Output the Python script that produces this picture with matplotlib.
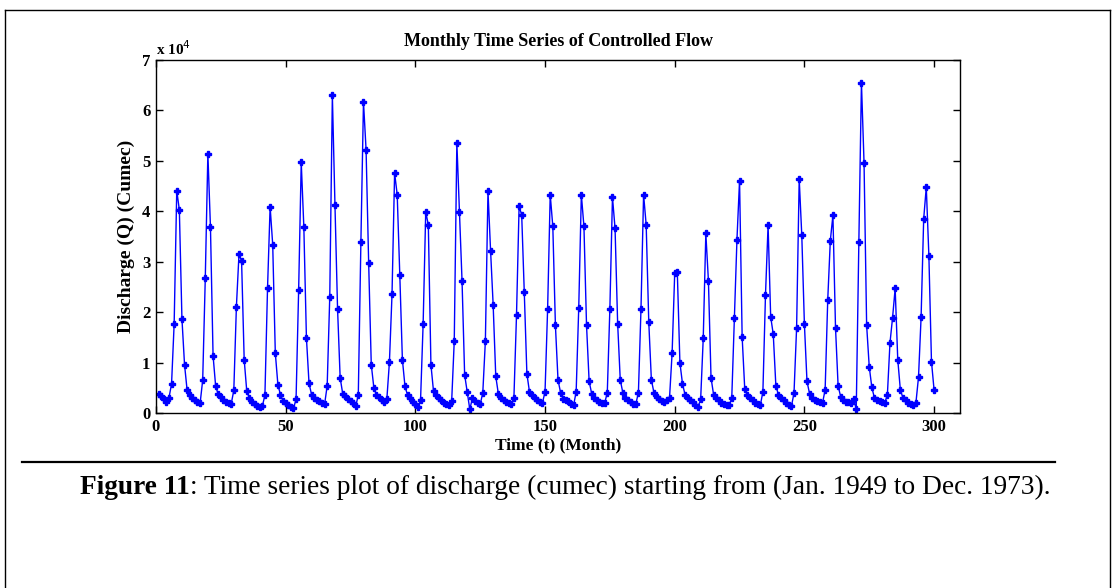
import numpy as np
import matplotlib
matplotlib.use("Agg")
import matplotlib.pyplot as plt
from matplotlib.lines import Line2D
from matplotlib.ticker import FuncFormatter

# monthly discharge, units of 1e4 cumec, Jan 1949 .. Dec 1973 (one row per year)
q_1e4 = [
    0.37, 0.33, 0.27, 0.22, 0.30, 0.58, 1.77, 4.41, 4.03, 1.87, 0.96, 0.45,
    0.36, 0.30, 0.25, 0.21, 0.19, 0.65, 2.67, 5.14, 3.68, 1.14, 0.53, 0.37,
    0.32, 0.26, 0.21, 0.19, 0.18, 0.45, 2.11, 3.15, 3.01, 1.06, 0.43, 0.30,
    0.22, 0.17, 0.13, 0.12, 0.13, 0.36, 2.47, 4.09, 3.34, 1.19, 0.56, 0.36,
    0.24, 0.20, 0.15, 0.11, 0.09, 0.27, 2.44, 4.97, 3.69, 1.49, 0.59, 0.36,
    0.30, 0.25, 0.23, 0.20, 0.17, 0.54, 2.31, 6.30, 4.13, 2.07, 0.70, 0.38,
    0.33, 0.28, 0.24, 0.20, 0.13, 0.36, 3.39, 6.17, 5.22, 2.97, 0.96, 0.50,
    0.36, 0.31, 0.26, 0.22, 0.27, 1.01, 2.35, 4.76, 4.33, 2.74, 1.06, 0.53,
    0.35, 0.30, 0.22, 0.18, 0.12, 0.25, 1.77, 3.99, 3.73, 0.96, 0.43, 0.35,
    0.30, 0.25, 0.20, 0.17, 0.16, 0.23, 1.43, 5.36, 3.99, 2.62, 0.76, 0.42,
    0.07, 0.30, 0.23, 0.19, 0.17, 0.40, 1.43, 4.40, 3.22, 2.14, 0.73, 0.38,
    0.30, 0.25, 0.22, 0.20, 0.18, 0.30, 1.94, 4.10, 3.93, 2.39, 0.78, 0.42,
    0.35, 0.30, 0.25, 0.22, 0.20, 0.42, 2.07, 4.33, 3.70, 1.74, 0.66, 0.40,
    0.28, 0.25, 0.23, 0.18, 0.15, 0.42, 2.09, 4.33, 3.70, 1.74, 0.63, 0.38,
    0.30, 0.25, 0.22, 0.20, 0.20, 0.40, 2.07, 4.28, 3.66, 1.77, 0.66, 0.40,
    0.30, 0.25, 0.22, 0.18, 0.18, 0.40, 2.07, 4.33, 3.73, 1.80, 0.66, 0.40,
    0.32, 0.28, 0.23, 0.22, 0.25, 0.30, 1.19, 2.77, 2.80, 1.00, 0.58, 0.36,
    0.30, 0.25, 0.22, 0.15, 0.12, 0.27, 1.48, 3.56, 2.62, 0.70, 0.36, 0.30,
    0.25, 0.20, 0.18, 0.15, 0.15, 0.30, 1.89, 3.44, 4.61, 1.51, 0.48, 0.36,
    0.30, 0.25, 0.20, 0.18, 0.15, 0.42, 2.34, 3.72, 1.91, 1.56, 0.54, 0.36,
    0.30, 0.25, 0.20, 0.15, 0.13, 0.40, 1.69, 4.64, 3.52, 1.77, 0.63, 0.38,
    0.30, 0.25, 0.23, 0.22, 0.20, 0.46, 2.24, 3.42, 3.92, 1.69, 0.54, 0.32,
    0.25, 0.22, 0.22, 0.20, 0.27, 0.08, 3.39, 6.55, 4.96, 1.74, 0.92, 0.51,
    0.30, 0.25, 0.23, 0.22, 0.20, 0.36, 1.39, 1.89, 2.47, 1.06, 0.46, 0.30,
    0.25, 0.20, 0.18, 0.15, 0.20, 0.71, 1.90, 3.85, 4.48, 3.12, 1.02, 0.46,
]
discharge = np.array(q_1e4) * 1e4
months = np.arange(1, len(discharge) + 1)

xticks = [0, 50, 100, 150, 200, 250, 300]
yticks = [0, 1e4, 2e4, 3e4, 4e4, 5e4, 6e4, 7e4]

serif = ["Liberation Serif", "DejaVu Serif"]
plt.rcParams["font.family"] = serif

W, H = 1118, 588
fig = plt.figure(figsize=(W / 100, H / 100), dpi=100)
ax = fig.add_axes([156 / W, 1 - 413 / H, (960 - 156) / W, (413 - 60) / H])

ax.plot(months, discharge, color="#0000FF", lw=1.0, marker="P", ms=4,
        mec="#0000FF", mfc="#0000FF")

ax.set_xlim(0, 310)
ax.set_ylim(0, 7e4)
ax.set_xticks(xticks)
ax.set_yticks(yticks)
ax.yaxis.set_major_formatter(FuncFormatter(lambda v, p: "%d" % round(v / 1e4)))
ax.tick_params(direction="in", top=True, right=True, length=5, width=1,
               labelsize=12, pad=4)
for lab in ax.get_xticklabels() + ax.get_yticklabels():
    lab.set_fontweight("bold")
for s in ax.spines.values():
    s.set_linewidth(1.0)

ax.text(0.0, 1.005, r"x 10$^4$", transform=ax.transAxes, ha="left", va="bottom",
        fontsize=11, fontweight="bold")
ax.set_title("Monthly Time Series of Controlled Flow", fontsize=13,
             fontweight="bold", pad=10)
ax.set_xlabel("Time (t) (Month)", fontsize=12.5, fontweight="bold", labelpad=2)
ax.set_ylabel("Discharge (Q) (Cumec)", fontsize=14, fontweight="bold", labelpad=5)

# page frame and rule under the chart
def fx(px):
    return px / W

def fy(py):
    return 1 - py / H

fig.add_artist(Line2D([fx(5), fx(5)], [0, fy(10)], color="black", lw=1))
fig.add_artist(Line2D([fx(5), fx(1110)], [fy(10), fy(10)], color="black", lw=1))
fig.add_artist(Line2D([fx(1110), fx(1110)], [0, fy(10)], color="black", lw=1))
fig.add_artist(Line2D([fx(22), fx(1055)], [fy(462), fy(462)], color="black", lw=1.6))

# caption: bold label followed by regular text
cap1 = fig.text(fx(80), fy(487), "Figure 11", fontsize=19.7, fontweight="bold",
                ha="left", va="center")
fig.canvas.draw()
bb = cap1.get_window_extent(renderer=fig.canvas.get_renderer())
fig.text(bb.x1 / W, fy(487), ": Time series plot of discharge (cumec) starting "
         "from (Jan. 1949 to Dec. 1973).", fontsize=19.7, ha="left", va="center")

fig.savefig("out.png", dpi=100)
